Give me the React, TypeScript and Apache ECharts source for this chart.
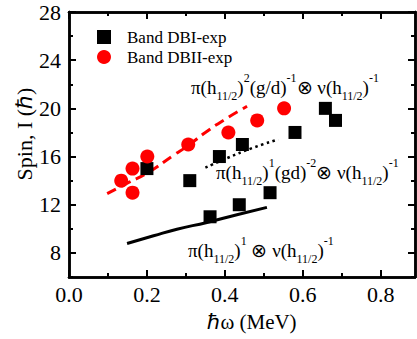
import React, { useEffect, useRef } from "react";
import * as echarts from "echarts";

// ---- data ----
const DBI_X = [0.2, 0.31, 0.362, 0.386, 0.437, 0.445, 0.516, 0.58, 0.658, 0.684];
const DBI_Y = [15, 14, 11, 16, 12, 17, 13, 18, 20, 19];
const DBII_X = [0.134, 0.163, 0.163, 0.201, 0.306, 0.409, 0.483, 0.552];
const DBII_Y = [14, 15, 13, 16, 17, 18, 19, 20];

const CALC_A_X = [0.098, 0.152, 0.203, 0.267, 0.306, 0.35, 0.396, 0.457];
const CALC_A_Y = [12.92, 13.83, 14.67, 16.08, 16.92, 18.0, 19.0, 20.17];
const CALC_B_X = [0.35, 0.408, 0.47, 0.537];
const CALC_B_Y = [15.08, 15.9, 16.7, 17.42];
const CALC_C_X = [0.149, 0.217, 0.277, 0.354, 0.431, 0.508];
const CALC_C_Y = [8.78, 9.42, 9.97, 10.53, 11.17, 11.78];

const X_MIN = 0;
const X_MAX = 0.888;
const Y_MIN = 6;
const Y_MAX = 28;
const X_MAJOR = [0, 0.2, 0.4, 0.6, 0.8];
const X_MINOR = [0.1, 0.3, 0.5, 0.7];
const Y_MAJOR = [8, 12, 16, 20, 24, 28];
const Y_MINOR = [6, 10, 14, 18, 22, 26];

const SERIES_NAMES = ["Band DBI-exp", "Band DBII-exp"];

const F = "Liberation Serif, Times New Roman, serif";

const zip = (xs: number[], ys: number[]) => xs.map((x, i) => [x, ys[i]]);

function axis(
  kind: "x" | "y",
  position: string,
  ticks: number[],
  len: number,
  labels: boolean,
  gridIndex: number
) {
  const isX = kind === "x";
  return {
    type: "value",
    gridIndex,
    position,
    min: isX ? X_MIN : Y_MIN,
    max: isX ? X_MAX : Y_MAX,
    axisLine: { show: true, onZero: false, lineStyle: { color: "#000", width: 2.5 } },
    axisTick: {
      show: true,
      inside: true,
      length: len,
      customValues: ticks,
      lineStyle: { color: "#000", width: 2 },
    },
    axisLabel: {
      show: labels,
      customValues: ticks,
      color: "#000",
      fontFamily: F,
      fontSize: 22,
      margin: isX ? 6 : 8,
      formatter: (v: number) => (isX ? v.toFixed(1) : String(v)),
    },
    splitLine: { show: false },
  };
}

const rich = (color: string) => ({
  m: { fontFamily: F, fontSize: 19, color, lineHeight: 30, verticalAlign: "middle" },
  sub: { fontFamily: F, fontSize: 12, color, lineHeight: 6, verticalAlign: "bottom" },
  sup: { fontFamily: F, fontSize: 12, color, lineHeight: 15, verticalAlign: "top" },
});

export default function App() {
  const ref = useRef<HTMLDivElement>(null);
  useEffect(() => {
    document.body.style.margin = "0";
    if (!ref.current) return;
    const chart = echarts.init(ref.current, null, { renderer: "svg" });
    const grid = { left: 69, right: 2, top: 12, bottom: 62, containLabel: false };
    chart.setOption({
      animation: false,
      backgroundColor: "#fff",
      textStyle: { fontFamily: F },
      grid: [grid, { ...grid }],
      xAxis: [
        axis("x", "bottom", X_MAJOR, 7, true, 0),
        axis("x", "top", X_MAJOR, 7, false, 0),
        axis("x", "bottom", X_MINOR, 4, false, 1),
        axis("x", "top", X_MINOR, 4, false, 1),
      ],
      yAxis: [
        axis("y", "left", Y_MAJOR, 7, true, 0),
        axis("y", "right", Y_MAJOR, 7, false, 0),
        axis("y", "left", Y_MINOR, 4, false, 1),
        axis("y", "right", Y_MINOR, 4, false, 1),
      ],
      legend: {
        data: [
          { name: SERIES_NAMES[0], icon: "rect" },
          { name: SERIES_NAMES[1], icon: "circle" },
        ],
        orient: "vertical",
        left: 92,
        top: 22,
        itemWidth: 14,
        itemHeight: 14,
        itemGap: 0,
        textStyle: {
          fontFamily: F,
          fontSize: 17,
          color: "#000",
          lineHeight: 20,
          padding: [0, 0, 0, 11],
        },
      },
      series: [
        {
          name: "calcA",
          type: "line",
          data: zip(CALC_A_X, CALC_A_Y),
          smooth: true,
          showSymbol: false,
          lineStyle: { color: "#ff0000", width: 3, type: [10, 6] },
          z: 2,
        },
        {
          name: "calcB",
          type: "line",
          data: zip(CALC_B_X, CALC_B_Y),
          smooth: true,
          showSymbol: false,
          lineStyle: { color: "#000", width: 2.5, type: [2.5, 3.5] },
          z: 2,
        },
        {
          name: "calcC",
          type: "line",
          data: zip(CALC_C_X, CALC_C_Y),
          smooth: true,
          showSymbol: false,
          lineStyle: { color: "#000", width: 3 },
          z: 2,
        },
        {
          name: SERIES_NAMES[0],
          type: "scatter",
          symbol: "rect",
          symbolSize: 13,
          data: zip(DBI_X, DBI_Y),
          itemStyle: { color: "#000", opacity: 1 },
          z: 3,
        },
        {
          name: SERIES_NAMES[1],
          type: "scatter",
          symbol: "circle",
          symbolSize: 14,
          data: zip(DBII_X, DBII_Y),
          itemStyle: { color: "#ff0000", opacity: 1 },
          z: 4,
        },
      ],
      graphic: [
        {
          type: "text",
          x: 24,
          y: 134,
          rotation: Math.PI / 2,
          style: {
            text: "Spin, I (ℏ)",
            font: `22px ${F}`,
            fill: "#000",
            align: "center",
            verticalAlign: "middle",
          },
        },
        {
          type: "text",
          x: 252,
          y: 322,
          style: {
            text: "ℏω (MeV)",
            font: `21px ${F}`,
            fill: "#000",
            align: "center",
            verticalAlign: "middle",
          },
        },
        {
          type: "text",
          x: 191,
          y: 87,
          z: 10,
          style: {
            text: "{m|π(h}{sub|11/2}{m|)}{sup|2}{m|(g/d)}{sup|-1}{m|⊗ ν(h}{sub|11/2}{m|)}{sup|-1}",
            rich: rich("#ff0000"),
            align: "left",
            verticalAlign: "middle",
          },
        },
        {
          type: "text",
          x: 216,
          y: 172,
          z: 10,
          style: {
            text: "{m|π(h}{sub|11/2}{m|)}{sup|1}{m|(gd)}{sup|-2}{m|⊗ ν(h}{sub|11/2}{m|)}{sup|-1}",
            rich: rich("#000"),
            align: "left",
            verticalAlign: "middle",
          },
        },
        {
          type: "text",
          x: 188,
          y: 250,
          z: 10,
          style: {
            text: "{m|π(h}{sub|11/2}{m|)}{sup|1}{m| ⊗ ν(h}{sub|11/2}{m|)}{sup|-1}",
            rich: rich("#000"),
            align: "left",
            verticalAlign: "middle",
          },
        },
      ],
    });
    return () => chart.dispose();
  }, []);
  return <div ref={ref} style={{ width: 417, height: 339 }} />;
}
